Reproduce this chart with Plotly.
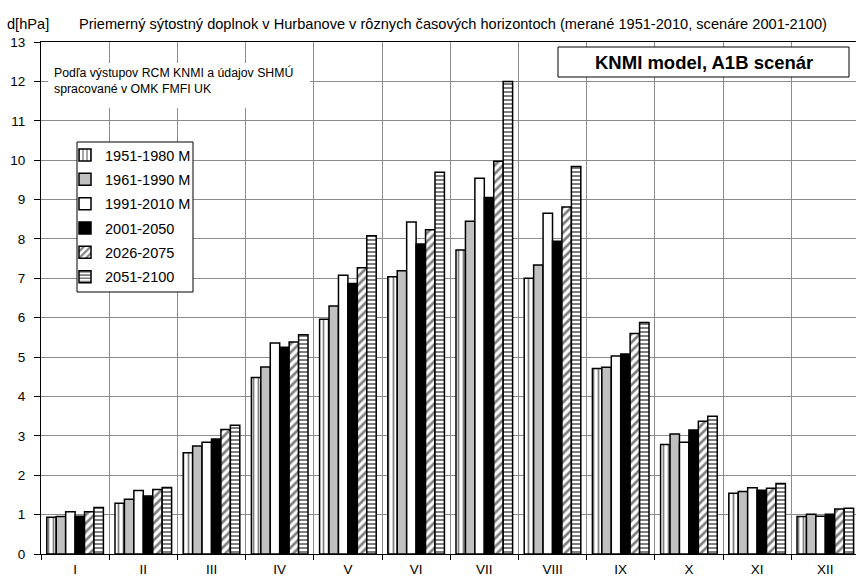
import plotly.graph_objects as go

# Months (Roman numerals)
months = ["I", "II", "III", "IV", "V", "VI", "VII", "VIII", "IX", "X", "XI", "XII"]

# Mean saturation deficit [hPa] in Hurbanovo
m_1951_1980 = [0.93, 1.29, 2.57, 4.48, 5.96, 7.04, 7.72, 7.00, 4.71, 2.78, 1.54, 0.95]
m_1961_1990 = [0.95, 1.39, 2.74, 4.75, 6.30, 7.19, 8.45, 7.34, 4.74, 3.05, 1.59, 1.01]
m_1991_2010 = [1.07, 1.61, 2.84, 5.36, 7.08, 8.43, 9.54, 8.65, 5.03, 2.84, 1.68, 0.96]
s_2001_2050 = [0.96, 1.47, 2.92, 5.25, 6.87, 7.87, 9.05, 7.94, 5.08, 3.15, 1.62, 1.01]
s_2026_2075 = [1.07, 1.64, 3.16, 5.38, 7.27, 8.23, 9.97, 8.81, 5.60, 3.37, 1.67, 1.14]
s_2051_2100 = [1.18, 1.69, 3.27, 5.57, 8.08, 9.69, 12.00, 9.84, 5.88, 3.50, 1.79, 1.16]

series_names = ["1951-1980 M", "1961-1990 M", "1991-2010 M", "2001-2050", "2026-2075", "2051-2100"]

FONT = "Liberation Sans, Arial, sans-serif"

styles = [
    dict(color="white", pattern=dict(shape="|", fgcolor="black", bgcolor="white", size=5, solidity=0.35, fillmode="overlay")),
    dict(color="#c0c0c0", pattern=None),
    dict(color="white", pattern=None),
    dict(color="black", pattern=None),
    dict(color="white", pattern=dict(shape="/", fgcolor="black", bgcolor="white", size=6, solidity=0.45, fillmode="overlay")),
    dict(color="white", pattern=dict(shape="-", fgcolor="black", bgcolor="white", size=4, solidity=0.5, fillmode="overlay")),
]

fig = go.Figure()
for i, (name, vals) in enumerate(zip(series_names,
                                     [m_1951_1980, m_1961_1990, m_1991_2010,
                                      s_2001_2050, s_2026_2075, s_2051_2100])):
    st = styles[i]
    marker = dict(color=st["color"], line=dict(color="black", width=1.5))
    if st["pattern"] is not None:
        marker["pattern"] = st["pattern"]
    fig.add_trace(go.Bar(x=months, y=vals, name=name, marker=marker,
                         legendgroup=name))

# plot area in pixels: x 41..856, y 42..554
W, H = 856, 579
L, T, B = 41, 42, 25
PW, PH = W - L, H - T - B


def px(x):
    return (x - L) / PW


def py(y):
    return (H - B - y) / PH


shapes = [
    # white box behind the source note
    dict(type="rect", xref="paper", yref="paper", x0=px(48), x1=px(310), y0=py(108), y1=py(63),
         fillcolor="white", line=dict(width=0), layer="above"),
    # model label box
    dict(type="rect", xref="paper", yref="paper", x0=px(558), x1=px(849), y0=py(77), y1=py(47),
         fillcolor="white", line=dict(color="black", width=1), layer="above"),
    # legend frame
    dict(type="rect", xref="paper", yref="paper", x0=px(77), x1=px(193), y0=py(292), y1=py(142),
         fillcolor="white", line=dict(color="black", width=1), layer="above"),
]

annotations = [
    dict(text="d[hPa]", xref="paper", yref="paper", x=px(5), y=py(23.5), xanchor="left", yanchor="middle",
         showarrow=False, font=dict(family=FONT, size=14.6, color="black")),
    dict(text="Priemerný sýtostný doplnok v Hurbanove v rôznych časových horizontoch (merané 1951-2010, scenáre 2001-2100)",
         xref="paper", yref="paper", x=px(77), y=py(23.5), xanchor="left", yanchor="middle",
         showarrow=False, font=dict(family=FONT, size=14.6, color="black")),
    dict(text="Podľa výstupov RCM KNMI a údajov SHMÚ", xref="paper", yref="paper", x=px(52), y=py(72),
         xanchor="left", yanchor="middle", showarrow=False, font=dict(family=FONT, size=12.3, color="black")),
    dict(text="spracované v OMK FMFI UK", xref="paper", yref="paper", x=px(52), y=py(89),
         xanchor="left", yanchor="middle", showarrow=False, font=dict(family=FONT, size=12.3, color="black")),
    dict(text="<b>KNMI model, A1B scenár</b>", xref="paper", yref="paper", x=px(703.5), y=py(62),
         xanchor="center", yanchor="middle", showarrow=False, font=dict(family=FONT, size=18.5, color="black")),
]

fig.update_layout(
    width=W, height=H,
    margin=dict(l=L, r=0, t=T, b=B, pad=0, autoexpand=False),
    paper_bgcolor="white", plot_bgcolor="white",
    barmode="group", bargap=0.17, bargroupgap=0,
    font=dict(family=FONT, size=13, color="black"),
    shapes=shapes, annotations=annotations,
    showlegend=True,
    legend=dict(x=px(65), y=py(139), xanchor="left", yanchor="top",
                bgcolor="rgba(0,0,0,0)", borderwidth=0, tracegroupgap=2.5,
                font=dict(family=FONT, size=14.5, color="black")),
    xaxis=dict(range=[-0.5, 11.45], tickson="boundaries", ticks="outside", ticklen=5,
               tickcolor="black", showline=True, linecolor="black", linewidth=1, mirror=True,
               showgrid=True, gridcolor="#8c8c8c", gridwidth=1, automargin=False,
               tickfont=dict(family=FONT, size=13.5), ticklabelstandoff=3),
    yaxis=dict(range=[0, 13], dtick=1, ticks="outside", ticklen=6, tickcolor="black",
               showline=True, linecolor="black", linewidth=1, automargin=False,
               showgrid=True, gridcolor="#8c8c8c", gridwidth=1, zeroline=False,
               tickfont=dict(family=FONT, size=13.5), ticklabelstandoff=6),
)

fig.write_html("out.html")
